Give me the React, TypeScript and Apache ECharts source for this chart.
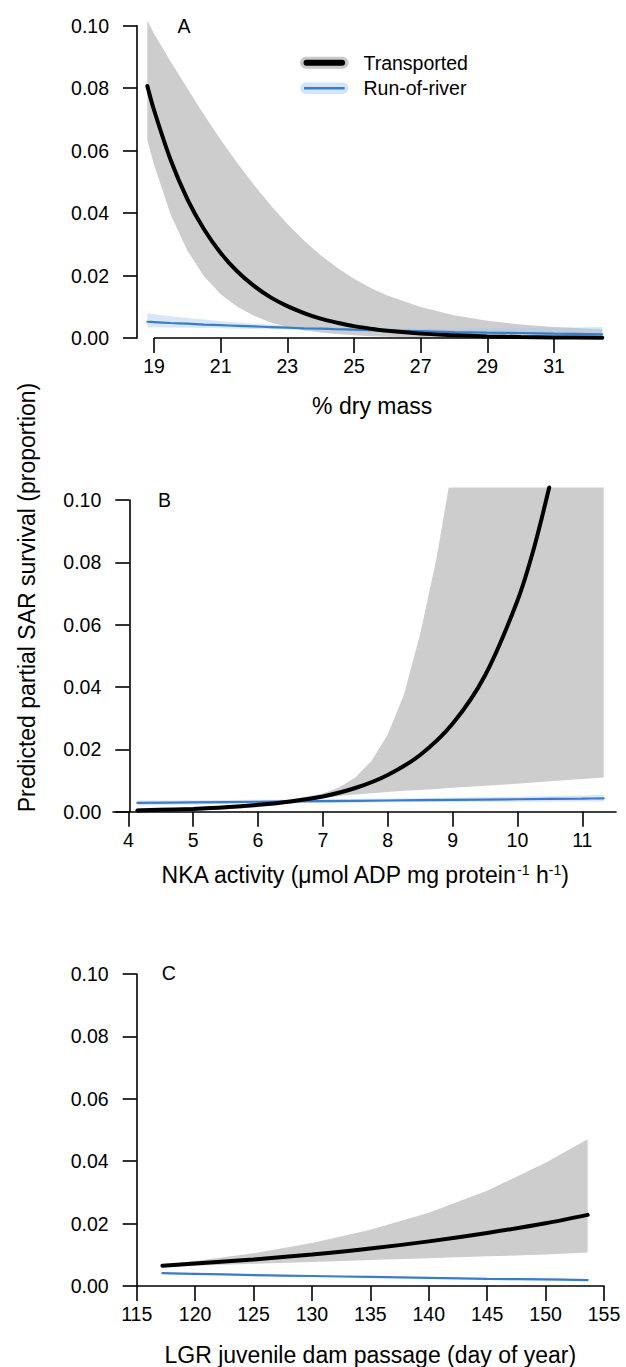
import React, { useEffect, useRef } from "react";
import * as echarts from "echarts";

const FONT = "'Liberation Sans', Arial, Helvetica, sans-serif";
const FS = 19.5;
const FST = 23;

// ---------- Panel A: % dry mass ----------
const xA = [18.8, 19, 19.5, 20, 20.5, 21, 21.5, 22, 22.5, 23, 23.5, 24, 24.5, 25, 25.5, 26, 27, 28, 29, 30, 31, 32.45];
const transA = [0.0807, 0.073, 0.057, 0.0445, 0.0348, 0.0272, 0.0213, 0.0167, 0.013, 0.0102, 0.008, 0.0062, 0.0049, 0.0038, 0.003, 0.0023, 0.0014, 0.0009, 0.0005, 0.0003, 0.0002, 0.0001];
const transHiA = [0.1016, 0.0975, 0.0885, 0.08, 0.0715, 0.0635, 0.056, 0.049, 0.0425, 0.0365, 0.0312, 0.0265, 0.0225, 0.019, 0.016, 0.0136, 0.0099, 0.0073, 0.0055, 0.0043, 0.0035, 0.0028];
const transLoA = [0.0634, 0.0555, 0.0395, 0.028, 0.0198, 0.014, 0.01, 0.0071, 0.005, 0.0036, 0.0025, 0.0018, 0.0013, 0.0009, 0.0006, 0.0004, 0.0002, 0.0001, 0.0001, 0, 0, 0];
const rorA = [0.0052, 0.0051, 0.0048, 0.0046, 0.0043, 0.0041, 0.0039, 0.0037, 0.0035, 0.0033, 0.0031, 0.003, 0.0028, 0.0027, 0.0025, 0.0024, 0.0022, 0.0019, 0.0017, 0.0016, 0.0014, 0.0012];
const rorHiA = [0.0079, 0.0076, 0.007, 0.0064, 0.0059, 0.0054, 0.005, 0.0046, 0.0043, 0.004, 0.0037, 0.0035, 0.0033, 0.0032, 0.0031, 0.0031, 0.003, 0.003, 0.0031, 0.0032, 0.0033, 0.0035];
const rorLoA = [0.0034, 0.0034, 0.0034, 0.0033, 0.0032, 0.0031, 0.003, 0.0029, 0.0028, 0.0027, 0.0025, 0.0024, 0.0023, 0.0022, 0.002, 0.0019, 0.0016, 0.0013, 0.001, 0.0008, 0.0006, 0.0004];

// ---------- Panel B: NKA activity ----------
const xTransB = [4.14, 4.5, 5, 5.5, 6, 6.5, 7, 7.5, 8, 8.5, 9, 9.5, 10, 10.25, 10.49];
const transB = [0.0004, 0.0006, 0.0009, 0.0014, 0.0022, 0.0033, 0.0049, 0.0076, 0.0118, 0.0182, 0.0282, 0.0437, 0.0677, 0.0842, 0.104];
const xBandB = [4.14, 4.5, 5, 5.5, 6, 6.5, 7, 7.25, 7.5, 7.75, 8, 8.25, 8.5, 8.75, 8.94, 9.5, 10, 10.5, 11, 11.33];
const transHiB = [0.0012, 0.0013, 0.0015, 0.0019, 0.0027, 0.0039, 0.0058, 0.0078, 0.011, 0.0163, 0.0248, 0.0375, 0.057, 0.081, 0.104, 0.104, 0.104, 0.104, 0.104, 0.104];
const transLoB = [0.0001, 0.0002, 0.0004, 0.0008, 0.0014, 0.0026, 0.0042, 0.005, 0.0055, 0.0059, 0.0063, 0.0067, 0.007, 0.0073, 0.0076, 0.0083, 0.009, 0.0098, 0.0105, 0.011];
const xRorB = [4.14, 5, 6, 7, 8, 9, 10, 11, 11.33];
const rorB = [0.0028, 0.003, 0.0032, 0.0034, 0.0036, 0.0038, 0.004, 0.0042, 0.0043];
const rorHiB = [0.0036, 0.0037, 0.0038, 0.004, 0.0042, 0.0045, 0.0048, 0.0052, 0.0054];
const rorLoB = [0.002, 0.0023, 0.0026, 0.0028, 0.003, 0.0031, 0.0032, 0.0033, 0.0033];

// ---------- Panel C: LGR passage day ----------
const xC = [117.2, 120, 125, 130, 135, 140, 145, 150, 153.6];
const transC = [0.0065, 0.0072, 0.0085, 0.0101, 0.012, 0.0143, 0.017, 0.0201, 0.0228];
const transHiC = [0.0068, 0.008, 0.0105, 0.0138, 0.018, 0.0235, 0.0305, 0.0395, 0.047];
const transLoC = [0.0062, 0.0065, 0.0071, 0.0077, 0.0083, 0.0089, 0.0095, 0.0101, 0.0107];
const rorC = [0.0041, 0.0039, 0.0035, 0.0032, 0.0029, 0.0026, 0.0023, 0.0021, 0.0019];
const rorHiC = [0.0044, 0.0041, 0.0037, 0.0034, 0.0031, 0.0028, 0.0026, 0.0024, 0.0022];
const rorLoC = [0.0038, 0.0037, 0.0033, 0.003, 0.0027, 0.0024, 0.0021, 0.0018, 0.0016];

// ---------- Ticks & texts ----------
const yTicks = [0, 0.02, 0.04, 0.06, 0.08, 0.1];
const xTicksA = [19, 21, 23, 25, 27, 29, 31];
const xTicksB = [4, 5, 6, 7, 8, 9, 10, 11];
const xTicksC = [115, 120, 125, 130, 135, 140, 145, 150, 155];
const xTitleA = "% dry mass";
const xTitleB = "NKA activity (μmol ADP mg protein{sup|-1} h{sup|-1})";
const xTitleC = "LGR juvenile dam passage (day of year)";
const yTitle = "Predicted partial SAR survival (proportion)";
const panelLetters = ["A", "B", "C"];
const seriesNames = ["Transported", "Run-of-river"];

const BLACK = "#000000";
const GRAY = "#cdcdcd";
const BLUE = "#3a7cc8";
const LIGHT = "rgba(166,202,240,0.45)";
const AX = { color: "#000", width: 1.6 };

function pairs(xs: number[], ys: number[]) {
  return xs.map((x, i) => [x, ys[i]]);
}

function band(idx: number, name: string, xs: number[], lo: number[], hi: number[], fill: string, z: number) {
  return {
    type: "custom",
    name,
    xAxisIndex: idx,
    yAxisIndex: idx,
    clip: false,
    silent: true,
    z,
    data: xs.map((x, i) => [x, lo[i], hi[i]]),
    encode: { x: 0, y: [1, 2] },
    renderItem: (params: any, api: any) => {
      if (params.dataIndex !== 0) return null;
      const pts: number[][] = [];
      for (let i = 0; i < xs.length; i++) pts.push(api.coord([xs[i], hi[i]]));
      for (let i = xs.length - 1; i >= 0; i--) pts.push(api.coord([xs[i], lo[i]]));
      return { type: "polygon", shape: { points: pts }, style: { fill } };
    },
  };
}

function line(idx: number, name: string, xs: number[], ys: number[], color: string, width: number, z: number, extra: any = {}) {
  return {
    type: "line",
    name,
    xAxisIndex: idx,
    yAxisIndex: idx,
    data: pairs(xs, ys),
    showSymbol: false,
    symbol: "none",
    smooth: 0.3,
    clip: false,
    silent: true,
    z,
    lineStyle: { color, width, cap: "round" },
    ...extra,
  };
}

function xAxis(gridIndex: number, min: number, max: number, ticks: number[], name: string, nameGap: number, showLine: boolean) {
  return {
    type: "value",
    gridIndex,
    min,
    max,
    axisLine: { show: showLine, onZero: false, lineStyle: AX },
    axisTick: { show: true, customValues: ticks, length: 15, lineStyle: AX },
    axisLabel: { customValues: ticks, margin: 18, color: "#000", fontSize: FS, fontFamily: FONT },
    splitLine: { show: false },
    name,
    nameLocation: "middle",
    nameGap,
    nameTextStyle: {
      color: "#000",
      fontSize: FST,
      fontFamily: FONT,
      rich: { sup: { fontSize: 14, fontFamily: FONT, color: "#000", verticalAlign: "top", padding: [0, 0, 10, 0] } },
    },
  };
}

function yAxis(gridIndex: number, offset: number) {
  return {
    type: "value",
    gridIndex,
    min: 0,
    max: 0.1,
    offset,
    axisLine: { show: true, onZero: false, lineStyle: AX },
    axisTick: { show: true, customValues: yTicks, length: 14, lineStyle: AX },
    axisLabel: {
      customValues: yTicks,
      margin: 28,
      color: "#000",
      fontSize: FS,
      fontFamily: FONT,
      formatter: (v: number) => v.toFixed(2),
    },
    splitLine: { show: false },
  };
}

export default function App() {
  const ref = useRef<HTMLDivElement>(null);
  useEffect(() => {
    if (!ref.current) return;
    const chart = echarts.init(ref.current, undefined, { renderer: "svg" });
    const option: any = {
      animation: false,
      backgroundColor: "#ffffff",
      grid: [
        { left: 137, top: 25.7, width: 470.3, height: 312.3, outerBoundsMode: "none" },
        { left: 113, top: 500, width: 503, height: 311.7, outerBoundsMode: "none" },
        { left: 136.7, top: 974, width: 467.3, height: 312, outerBoundsMode: "none" },
      ],
      xAxis: [
        xAxis(0, 18.49, 32.6, xTicksA, xTitleA, 56, false),
        xAxis(1, 3.764, 11.52, xTicksB, xTitleB, 51.5, true),
        xAxis(2, 115, 155, xTicksC, xTitleC, 57.5, true),
      ],
      yAxis: [yAxis(0, 0), yAxis(1, -16.3), yAxis(2, 0)],
      series: [
        band(0, seriesNames[0] + " CI", xA, transLoA, transHiA, GRAY, 1),
        band(0, seriesNames[1] + " CI", xA, rorLoA, rorHiA, LIGHT, 2),
        line(0, seriesNames[1], xA, rorA, BLUE, 2.2, 3),
        line(0, seriesNames[0], xA, transA, BLACK, 4, 4, {
          markLine: {
            silent: true,
            symbol: ["none", "none"],
            label: { show: false },
            lineStyle: { color: "#000", width: 1.6, type: "solid" },
            data: [[{ coord: [xTicksA[0], 0] }, { coord: [xTicksA[xTicksA.length - 1], 0] }]],
          },
        }),
        band(1, seriesNames[0] + " CI", xBandB, transLoB, transHiB, GRAY, 1),
        band(1, seriesNames[1] + " CI", xRorB, rorLoB, rorHiB, LIGHT, 2),
        line(1, seriesNames[1], xRorB, rorB, BLUE, 2.2, 3),
        line(1, seriesNames[0], xTransB, transB, BLACK, 4, 4),
        band(2, seriesNames[0] + " CI", xC, transLoC, transHiC, GRAY, 1),
        band(2, seriesNames[1] + " CI", xC, rorLoC, rorHiC, LIGHT, 2),
        line(2, seriesNames[1], xC, rorC, BLUE, 2.2, 3),
        line(2, seriesNames[0], xC, transC, BLACK, 4, 4),
      ],
      graphic: [
        // legend
        { type: "rect", shape: { x: 300, y: 56.7, width: 48.6, height: 12, r: 6 }, style: { fill: "#c8c8c8" }, silent: true },
        { type: "rect", shape: { x: 303.5, y: 59.7, width: 41.6, height: 6, r: 3 }, style: { fill: BLACK }, silent: true },
        { type: "text", x: 363.5, y: 62.7, style: { text: seriesNames[0], fill: "#000", font: `${FS}px ${FONT}`, verticalAlign: "middle" }, silent: true },
        { type: "rect", shape: { x: 300, y: 82.6, width: 48.6, height: 11.4, r: 5.7 }, style: { fill: "#d4e5f6" }, silent: true },
        { type: "rect", shape: { x: 304, y: 87.1, width: 40.6, height: 2.4 }, style: { fill: BLUE }, silent: true },
        { type: "text", x: 363.5, y: 88.3, style: { text: seriesNames[1], fill: "#000", font: `${FS}px ${FONT}`, verticalAlign: "middle" }, silent: true },
        // panel letters
        { type: "text", x: 184, y: 26, style: { text: panelLetters[0], fill: "#000", font: `${FS}px ${FONT}`, align: "center", verticalAlign: "middle" }, silent: true },
        { type: "text", x: 164.5, y: 500, style: { text: panelLetters[1], fill: "#000", font: `${FS}px ${FONT}`, align: "center", verticalAlign: "middle" }, silent: true },
        { type: "text", x: 168.7, y: 973, style: { text: panelLetters[2], fill: "#000", font: `${FS}px ${FONT}`, align: "center", verticalAlign: "middle" }, silent: true },
        // shared y title
        { type: "text", x: 27, y: 597.5, rotation: Math.PI / 2, style: { text: yTitle, fill: "#000", font: `${FST}px ${FONT}`, align: "center", verticalAlign: "middle" }, silent: true },
      ],
    };
    chart.setOption(option);
    return () => chart.dispose();
  }, []);
  return <div ref={ref} style={{ position: "absolute", left: 0, top: 0, width: 626, height: 1367 }} />;
}
